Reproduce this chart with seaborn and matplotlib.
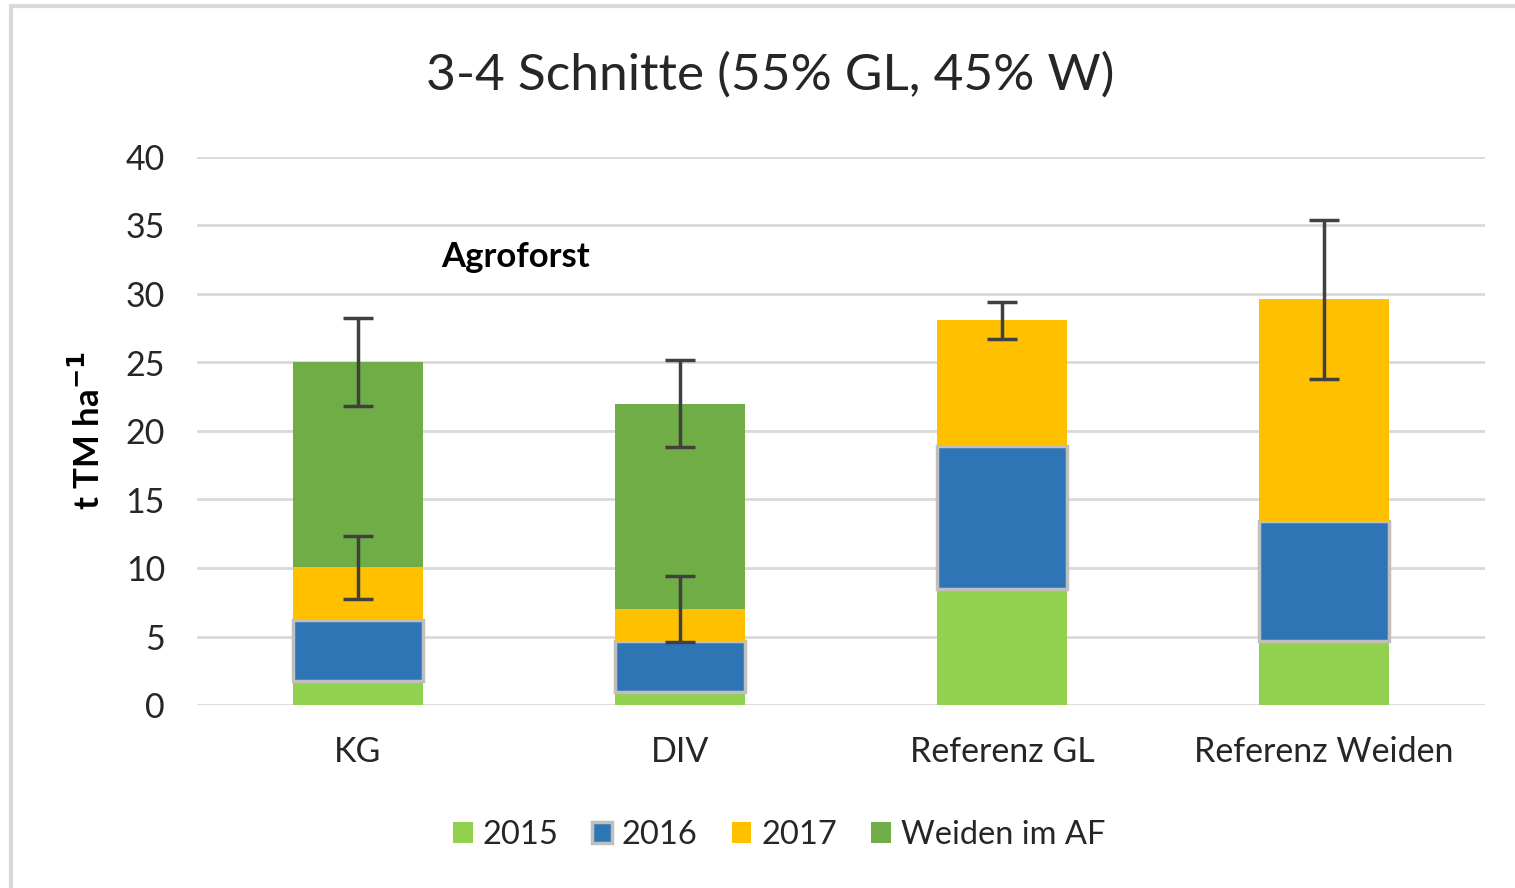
import matplotlib
matplotlib.use("Agg")
import matplotlib.pyplot as plt
import seaborn as sns
import numpy as np
from matplotlib.patches import Patch, Rectangle

categories = ["KG", "DIV", "Referenz GL", "Referenz Weiden"]
v2015 = [1.75, 0.95, 8.5, 4.65]
v2016 = [4.45, 3.75, 10.4, 8.75]
v2017 = [3.85, 2.3, 9.2, 16.2]
vweiden = [15.0, 15.0, 0.0, 0.0]
err2017 = [2.3, 2.4, 1.35, 5.8]
errweiden = [3.2, 3.2, 0.0, 0.0]
series_names = ["2015", "2016", "2017", "Weiden im AF"]
colors = ["#92D050", "#2E75B6", "#FFC000", "#70AD47"]

sns.set_theme(style="white")
plt.rcParams['font.family'] = ['Lato', 'DejaVu Sans']

fig = plt.figure(figsize=(15.15, 8.88), dpi=100)
ax = fig.add_axes([197/1515, 1-705/888, (1485-197)/1515, (705-157)/888])

# figure frame
fig.patches.append(Rectangle((11/1515, -0.05), 1.1, 1 - 6/888 + 0.05, transform=fig.transFigure,
                             fill=False, edgecolor="#D9D9D9", linewidth=3, zorder=0))

series = [v2015, v2016, v2017, vweiden]
bottom = np.zeros(len(categories))
tops = []
for name, vals, col in zip(series_names, series, colors):
    kw = dict(edgecolor="#BFBFBF", linewidth=2.5) if name == "2016" else dict(linewidth=0)
    sns.barplot(x=categories, y=vals, bottom=bottom, color=col, width=0.405, ax=ax,
                saturation=1, zorder=3, **kw)
    bottom = bottom + np.array(vals)
    tops.append(bottom.copy())

xpos = np.arange(len(categories))
top2017 = tops[2]
topw = tops[3]
ax.errorbar(xpos, top2017, yerr=err2017, fmt="none", ecolor="#404040", elinewidth=2.5,
            capsize=11, capthick=2.5, zorder=5)
mask = np.array(errweiden) > 0
ax.errorbar(xpos[mask], topw[mask], yerr=np.array(errweiden)[mask], fmt="none", ecolor="#404040",
            elinewidth=2.5, capsize=11, capthick=2.5, zorder=5)

ax.set_ylim(0, 40)
ax.set_xlim(-0.5, 3.5)
ax.set_yticks(range(0, 41, 5))
ax.yaxis.grid(True, color="#D9D9D9", linewidth=2)
ax.set_axisbelow(True)
for s in ax.spines.values():
    s.set_visible(False)
ax.tick_params(axis="both", length=0, labelsize=24.5, colors="#262626")
ax.tick_params(axis="x", pad=22)
ax.tick_params(axis="y", pad=23)
for lab in ax.get_yticklabels():
    lab.set_horizontalalignment("right")

ax.set_ylabel(r"t TM ha$^{\mathbf{-1}}$", fontsize=25, fontweight="bold", color="black", labelpad=14)
ax.set_xlabel("")

fig.suptitle("3-4 Schnitte (55% GL, 45% W)", fontsize=37, color="#262626", y=1-75/888, va="center",
             x=(428+1112)/2/1515)

ax.text(0.49, 32.7, "Agroforst", fontsize=25, fontweight="bold", color="black", ha="center", va="center")

handles = []
for name, col in zip(series_names, colors):
    if name == "2016":
        handles.append(Patch(facecolor=col, edgecolor="#BFBFBF", linewidth=2.5, label=name))
    else:
        handles.append(Patch(facecolor=col, edgecolor="none", label=name))
fig.legend(handles=handles, loc="center", bbox_to_anchor=(779/1515, 1-835/888), ncol=4, frameon=False,
           fontsize=23.5, handlelength=0.6, handleheight=0.6, handletextpad=0.3, columnspacing=1.05,
           labelcolor="#262626")

fig.savefig("out.png", dpi=100)
